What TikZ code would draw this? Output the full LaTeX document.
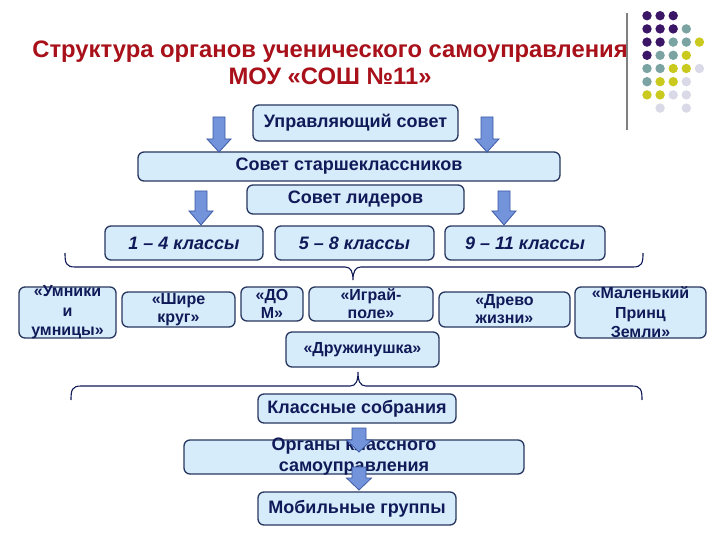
\documentclass[tikz,border=0pt]{standalone}
\usepackage{fontspec}
\setmainfont{Liberation Sans}
\definecolor{titlered}{HTML}{A8101A}
\definecolor{navy}{HTML}{111A58}
\definecolor{boxfill}{HTML}{D6ECFB}
\definecolor{boxline}{HTML}{27365F}
\definecolor{arrfill}{HTML}{7393DB}
\definecolor{arrline}{HTML}{3D5AA6}
\definecolor{dP}{HTML}{3B1566}
\definecolor{dT}{HTML}{7BA3A2}
\definecolor{dY}{HTML}{C9C91E}
\definecolor{dL}{HTML}{D9D9E8}
\newcommand\blkarrow[6]{%
  \draw[arr] (#1-#5,#2) -- (#1+#5,#2) -- (#1+#5,#3) -- (#1+#6,#3) -- (#1,#4)
    -- (#1-#6,#3) -- (#1-#5,#3) -- cycle;}
\begin{document}
\begin{tikzpicture}[x=1pt,y=-1pt,
  box/.style={draw=boxline, line width=1.3pt, fill=boxfill, rounded corners=6pt,
    inner sep=0pt, text=navy, font=\bfseries\fontsize{18}{20}\selectfont, align=center},
  txt/.style={inner sep=0pt, text=navy, font=\bfseries\fontsize{16}{19}\selectfont, align=center},
  arr/.style={draw=arrline, line width=0.8pt, fill=arrfill, line join=miter},
  brace/.style={draw=navy, line width=1.1pt},
  dot/.style={radius=4.7}
]
\useasboundingbox (0,0) rectangle (720,540);
\fill[white] (0,0) rectangle (720,540);
% title
\node[text=titlered, font=\bfseries\fontsize{23.8}{27}\selectfont, align=center] (title) at (330,63)
  {Структура органов ученического самоуправления\\МОУ «СОШ №11»};
% decoration
\draw[gray, line width=1.8pt] (627,13) -- (627,130);
\foreach \row/\cols in {0/{P,P,P,N,N},1/{P,P,P,T,N},2/{P,P,T,T,Y},3/{P,T,T,Y,N},4/{T,T,Y,Y,L},5/{T,Y,Y,L,N},6/{Y,Y,L,L,N},7/{N,L,N,L,N}}{
  \foreach \c [count=\i from 0] in \cols {
    \if\c N\else
      \fill[d\c] (647+13.1*\i,15.7+13.2*\row) circle[dot];
    \fi
  }
}
% boxes
\node[box, minimum width=205, minimum height=36] (upr) at (355.5,123) {Управляющий совет};
\node[box, minimum width=422, minimum height=29] (star) at (349,166.5) {Совет старшеклассников};
\node[box, minimum width=217, minimum height=29] (lid) at (355.5,199.5) {Совет лидеров};
\node[box, minimum width=158, minimum height=34, font=\bfseries\itshape\fontsize{18}{20}\selectfont] (k14) at (184,243) {1 – 4 классы};
\node[box, minimum width=159, minimum height=34, font=\bfseries\itshape\fontsize{18}{20}\selectfont] (k58) at (354.5,243) {5 – 8 классы};
\node[box, minimum width=160, minimum height=34, font=\bfseries\itshape\fontsize{18}{20}\selectfont] (k911) at (525,243) {9 – 11 классы};
% clubs
\node[box, minimum width=97, minimum height=51] (umn) at (67.5,312.5) {};
\node[txt, font=\bfseries\fontsize{16}{19.5}\selectfont] at (umn) {«Умники\\и\\умницы»};
\node[box, minimum width=113, minimum height=35] (shire) at (178.5,309.5) {};
\node[txt, font=\bfseries\fontsize{16}{18}\selectfont] at (shire) {«Шире\\круг»};
\node[box, minimum width=62, minimum height=34] (dom) at (272,304) {};
\node[txt, font=\bfseries\fontsize{16}{18}\selectfont] at (dom) {«ДО\\М»};
\node[box, minimum width=124, minimum height=34] (igr) at (371,304) {};
\node[txt, font=\bfseries\fontsize{16}{18}\selectfont] at (igr) {«Играй-\\поле»};
\node[box, minimum width=131, minimum height=35] (drevo) at (504.5,309.5) {};
\node[txt, font=\bfseries\fontsize{16}{18}\selectfont] at (drevo) {«Древо\\жизни»};
\node[box, minimum width=131, minimum height=51] (mal) at (640.5,312.5) {};
\node[txt, font=\bfseries\fontsize{16}{19.5}\selectfont] at (mal) {«Маленький\\Принц\\Земли»};
\node[box, minimum width=153, minimum height=35, font=\bfseries\fontsize{16}{18}\selectfont] (druzh) at (362.5,349.5) {«Дружинушка»};
% bottom
\node[box, minimum width=198, minimum height=29] (klass) at (357,408.5) {Классные собрания};
\node[box, minimum width=340, minimum height=34] (organ) at (354,457) {};
\node[txt, font=\bfseries\fontsize{18}{21}\selectfont] (organt) at (organ) {Органы классного\\самоуправления};
\node[box, minimum width=198, minimum height=33] (mob) at (357,508.5) {Мобильные группы};
% braces
\draw[brace] (65,253) .. controls (65,263) and (66,267) .. (75,267) -- (345,267)
  .. controls (351,267) and (353,272) .. (353,280)
  .. controls (353,272) and (355,267) .. (361,267) -- (633,267)
  .. controls (642,267) and (643,263) .. (643,253);
\draw[brace] (71,400) .. controls (71,390) and (72,386) .. (81,386) -- (350,386)
  .. controls (356,386) and (358,381) .. (358,372)
  .. controls (358,381) and (360,386) .. (366,386) -- (632,386)
  .. controls (641,386) and (642,390) .. (642,400);
% block arrows
\blkarrow{219}{117}{139}{152}{6}{12}
\blkarrow{487}{117}{139}{152}{6}{12}
\blkarrow{201}{191}{211}{225}{6}{12}
\blkarrow{504}{191}{211}{225}{6}{12}
\blkarrow{359}{428}{440}{452}{7}{12.5}
\blkarrow{359}{467}{478}{490}{7}{12.5}
\end{tikzpicture}
\end{document}
